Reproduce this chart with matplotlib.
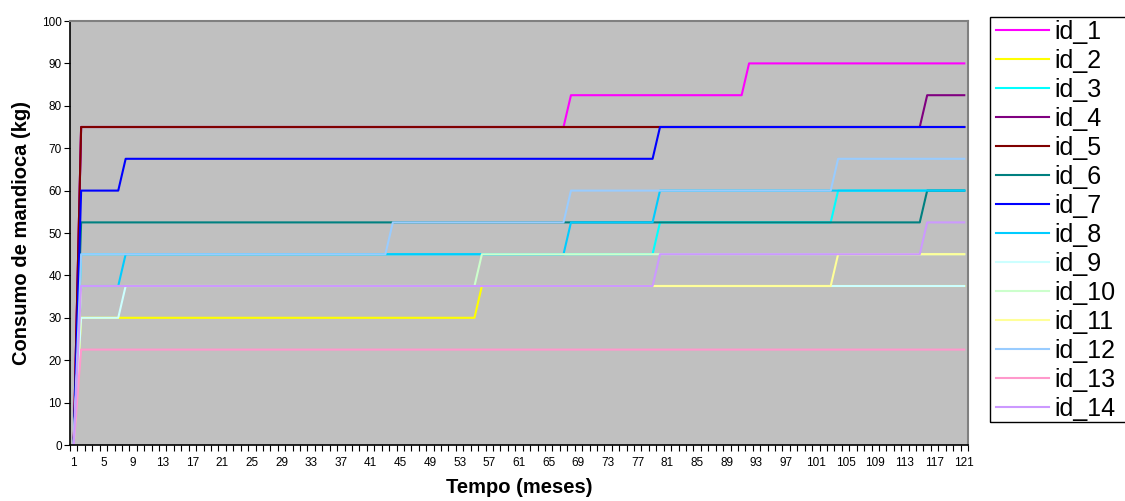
import numpy as np
import matplotlib
matplotlib.use("Agg")
import matplotlib.pyplot as plt
from matplotlib.patches import Rectangle

plt.rcParams["font.family"] = ["Liberation Sans", "DejaVu Sans"]

months = np.arange(1, 122)

# each series: month where a new level starts, and the level (kg)
labels = ["id_1", "id_2", "id_3", "id_4", "id_5", "id_6", "id_7",
          "id_8", "id_9", "id_10", "id_11", "id_12", "id_13", "id_14"]
starts = [
    [1, 2, 68, 92],          # id_1
    [1, 2, 56],              # id_2
    [1, 2, 80, 104],         # id_3
    [1, 2, 116],             # id_4
    [1, 2],                  # id_5
    [1, 2, 116],             # id_6
    [1, 2, 8, 80],           # id_7
    [1, 2, 8, 68, 80],       # id_8
    [1, 2, 8],               # id_9
    [1, 2, 56],              # id_10
    [1, 2, 104],             # id_11
    [1, 2, 44, 68, 104],     # id_12
    [1, 2],                  # id_13
    [1, 2, 80, 116],         # id_14
]
levels = [
    [0, 75, 82.5, 90],
    [0, 30, 37.5],
    [0, 45, 52.5, 60],
    [0, 75, 82.5],
    [0, 75],
    [0, 52.5, 60],
    [0, 60, 67.5, 75],
    [0, 37.5, 45, 52.5, 60],
    [0, 30, 37.5],
    [0, 37.5, 45],
    [0, 37.5, 45],
    [0, 45, 52.5, 60, 67.5],
    [0, 22.5],
    [0, 37.5, 45, 52.5],
]
colors = ["#FF00FF", "#FFFF00", "#00FFFF", "#800080", "#800000", "#008080",
          "#0000FF", "#00CCFF", "#CCFFFF", "#CCFFCC", "#FFFF99", "#99CCFF",
          "#FF99CC", "#CC99FF"]

fig = plt.figure(figsize=(11.25, 5.01), dpi=100)
ax = fig.add_axes([70 / 1125, 1 - 445 / 501, 898 / 1125, 424 / 501])
ax.set_facecolor("#C0C0C0")

for lab, st, lv, c in zip(labels, starts, levels, colors):
    vals = np.zeros(len(months))
    for s, l in zip(st, lv):
        vals[months >= s] = l
    ax.plot(months, vals, color=c, lw=1.5, label=lab)

ax.set_xlim(0.5, 121.5)
ax.set_ylim(0, 100)
ax.set_yticks(np.arange(0, 101, 10))
ax.set_xticks(np.arange(1, 122, 4))
ax.set_xticks(np.arange(0.5, 122, 1), minor=True)
ax.tick_params(axis="x", which="major", length=0, labelsize=8.5, pad=9)
ax.tick_params(axis="x", which="minor", length=4, width=0.8, direction="out")
ax.tick_params(axis="y", length=4, width=0.8, labelsize=8.5, pad=2)

for side in ["top", "right"]:
    ax.spines[side].set_color("#808080")
    ax.spines[side].set_linewidth(1.5)
for side in ["left", "bottom"]:
    ax.spines[side].set_color("black")
    ax.spines[side].set_linewidth(1.2)

ax.set_xlabel("Tempo (meses)", fontsize=14.5, fontweight="bold", labelpad=6)
ax.set_ylabel("Consumo de mandioca (kg)", fontsize=14.5, fontweight="bold", labelpad=8)

leg = fig.legend(loc="upper left", bbox_to_anchor=(996 / 1125, 1 - 20 / 501),
                 fontsize=18, frameon=False, labelspacing=0.2,
                 handlelength=2.1, handletextpad=0.25, borderpad=0,
                 borderaxespad=0)

# legend frame runs past the right edge of the picture
fig.patches.append(Rectangle((990 / 1125, 1 - 422 / 501), 150 / 1125, 405 / 501,
                             transform=fig.transFigure, fill=False,
                             edgecolor="black", lw=1.0))

fig.savefig("out.png", dpi=100)
